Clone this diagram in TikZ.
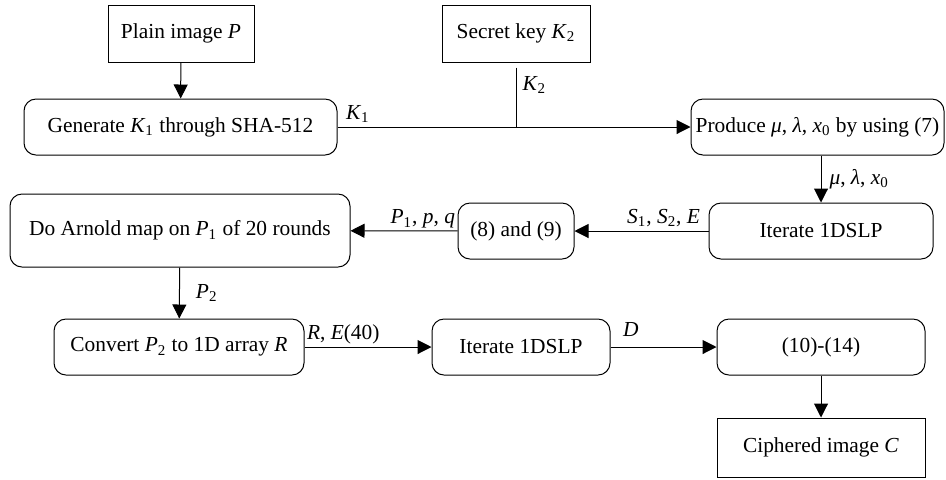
\documentclass[tikz,border=0pt]{standalone}
\usepackage{fontspec}
\setmainfont{Liberation Serif}
\usetikzlibrary{arrows.meta,positioning}
\tikzset{
    proc/.style={draw, line width=0.5pt, rounded corners=6pt, minimum height=28pt, inner sep=0pt},
    io/.style={draw, line width=0.5pt, minimum height=28.5pt, inner sep=0pt},
    flow/.style={line width=0.5pt, -{Triangle[length=7pt,width=7pt]}},
}
\newcommand{\iv}[1]{\textit{#1}}

\begin{document}
\begin{tikzpicture}[x=0.5pt, y=-0.5pt, font=\fontsize{10.7}{12.8}\selectfont]
            \useasboundingbox (0,0) rectangle (946,479);
            \node[io, minimum width=73pt] (plain) at (181,33.5) {Plain image \iv{P}};
            \node[io, minimum width=74pt] (secret) at (516,33.5) {Secret key \iv{K}\textsubscript{2}};
            \node[proc, minimum width=156.5pt] (gen) at (180.5,127) {Generate \iv{K}\textsubscript{1} through SHA-512};
            \node[proc, minimum width=126.5pt] (prod) at (817.5,127) {Produce \iv{μ}, \iv{λ}, \iv{x}\textsubscript{0} by using (7)};
            \node[proc, minimum width=112pt] (iterA) at (821,231) {Iterate 1DSLP};
            \node[proc, minimum width=58pt] (eqA) at (516,231) {(8) and (9)};
            \node[proc, minimum width=170pt, minimum height=36.5pt] (arnold) at (180,230.5) {Do Arnold map on \iv{P}\textsubscript{1} of 20 rounds};
            \node[proc, minimum width=125pt] (conv) at (179,347) {Convert \iv{P}\textsubscript{2} to 1D array \iv{R}};
            \node[proc, minimum width=89pt] (iterB) at (521,347) {Iterate 1DSLP};
            \node[proc, minimum width=104pt] (eqB) at (821,347) {(10)-(14)};
            \node[io, minimum width=104pt, minimum height=29.5pt] (ciph) at (821,447.5) {Ciphered image \iv{C}};

            \coordinate (join) at (secret.south |- gen.east);

            \draw[flow] (plain) -- (gen);
            \draw[flow] (gen) -- (prod) node[pos=0, above right, inner sep=2pt, xshift=2pt] {\iv{K}\textsubscript{1}};
            \draw[line width=0.5pt, shorten <=2.5pt] (secret) -- (join) node[pos=0.35, right, inner sep=3pt] {\iv{K}\textsubscript{2}};
            \draw[flow] (prod.south -| iterA) -- (iterA) node[midway, right, inner sep=4pt] {\iv{μ}, \iv{λ}, \iv{x}\textsubscript{0}};
            \draw[flow] (iterA) -- (eqA) node[pos=0, above left, inner sep=2pt, xshift=-2pt] {\iv{S}\textsubscript{1}, \iv{S}\textsubscript{2}, \iv{E}};
            \draw[flow] (eqA) -- (arnold) node[pos=0, above left, inner sep=1pt] {\iv{P}\textsubscript{1}, \iv{p}, \iv{q}};
            \draw[flow] (arnold) -- (conv) node[midway, right, inner sep=8pt] {\iv{P}\textsubscript{2}};
            \draw[flow] (conv) -- (iterB) node[pos=0, above right, inner sep=1pt] {\iv{R}, \iv{E}(40)};
            \draw[flow] (iterB) -- (eqB) node[pos=0, above right, inner sep=2pt, xshift=4pt, yshift=3pt] {\iv{D}};
            \draw[flow] (eqB) -- (ciph);
        \end{tikzpicture}
\end{document}
